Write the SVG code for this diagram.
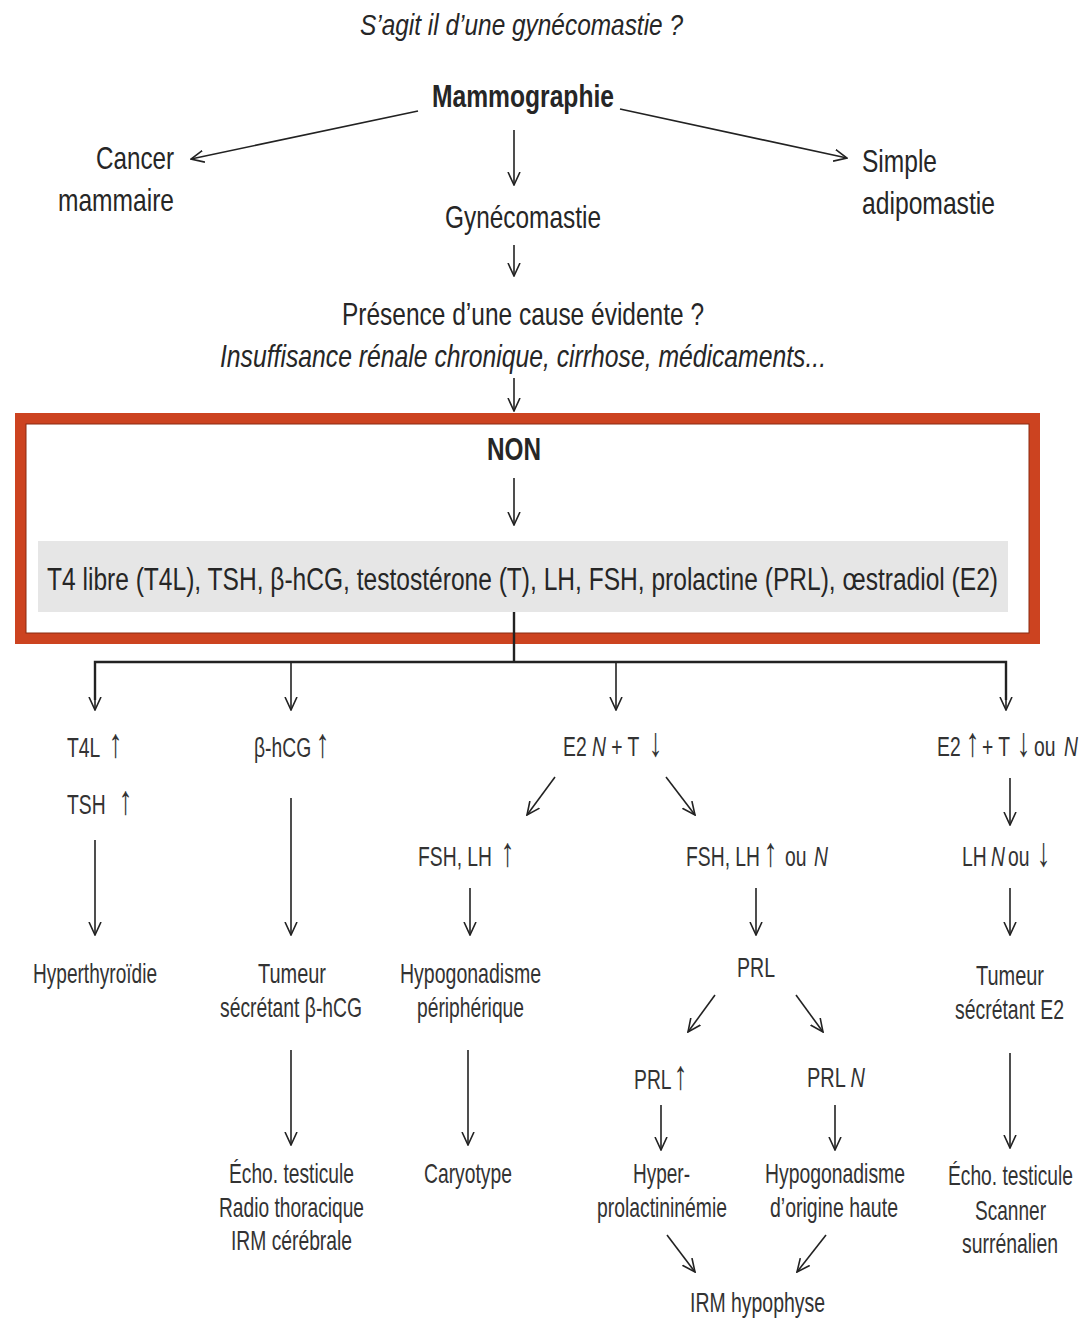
<svg xmlns="http://www.w3.org/2000/svg" width="1089" height="1319" viewBox="0 0 1089 1319">
<style>
text{font-family:"Liberation Sans",Arial,sans-serif;fill:#262626}
.t{font-size:32px}
.s{font-size:28px;fill:#333}
.b{font-weight:bold}
.i{font-style:italic}
.m{text-anchor:middle}
.e{text-anchor:end}
.ar{font-size:41px}
.c{fill:none;stroke:#222;stroke-width:1.6}
.h{fill:none;stroke:#222;stroke-width:2.4}
</style>
<defs>
<marker id="ah" viewBox="0 0 14 14" refX="13" refY="7" markerWidth="14" markerHeight="14" orient="auto" markerUnits="userSpaceOnUse">
<path d="M0,1 L13,7 L0,13" fill="none" stroke="#222" stroke-width="1.6"/>
</marker>
</defs>
<rect width="1089" height="1319" fill="#fff"/>
<g id="frame">
<rect x="20.5" y="418.5" width="1014" height="220" fill="none" stroke="#cc4320" stroke-width="11"/>
<rect x="26" y="424" width="1003" height="209" fill="none" stroke="#8a2a10" stroke-width="1"/>
<rect x="38" y="541" width="970" height="71" fill="#e6e6e6"/>
</g>
<g id="connectors">
<line class="c" x1="418" y1="111" x2="191" y2="159" marker-end="url(#ah)"/>
<line class="c" x1="620" y1="109" x2="847" y2="158" marker-end="url(#ah)"/>
<line class="c" x1="514" y1="130" x2="514" y2="185" marker-end="url(#ah)"/>
<line class="c" x1="514" y1="245" x2="514" y2="276" marker-end="url(#ah)"/>
<line class="c" x1="514" y1="378" x2="514" y2="411" marker-end="url(#ah)"/>
<line class="c" x1="514" y1="478" x2="514" y2="525" marker-end="url(#ah)"/>
<line class="h" x1="514" y1="612" x2="514" y2="662"/>
<polyline class="h" points="95,700 95,662 1006,662 1006,700"/>
<line class="c" x1="95" y1="662" x2="95" y2="710" marker-end="url(#ah)"/>
<line class="c" x1="291" y1="662" x2="291" y2="710" marker-end="url(#ah)"/>
<line class="c" x1="616" y1="662" x2="616" y2="710" marker-end="url(#ah)"/>
<line class="c" x1="1006" y1="662" x2="1006" y2="710" marker-end="url(#ah)"/>
<line class="c" x1="95" y1="840" x2="95" y2="935" marker-end="url(#ah)"/>
<line class="c" x1="291" y1="798" x2="291" y2="935" marker-end="url(#ah)"/>
<line class="c" x1="555" y1="777" x2="527" y2="815" marker-end="url(#ah)"/>
<line class="c" x1="666" y1="777" x2="695" y2="815" marker-end="url(#ah)"/>
<line class="c" x1="470" y1="888" x2="470" y2="935" marker-end="url(#ah)"/>
<line class="c" x1="756" y1="888" x2="756" y2="935" marker-end="url(#ah)"/>
<line class="c" x1="1010" y1="778" x2="1010" y2="825" marker-end="url(#ah)"/>
<line class="c" x1="1010" y1="888" x2="1010" y2="935" marker-end="url(#ah)"/>
<line class="c" x1="291" y1="1050" x2="291" y2="1145" marker-end="url(#ah)"/>
<line class="c" x1="468" y1="1050" x2="468" y2="1145" marker-end="url(#ah)"/>
<line class="c" x1="1010" y1="1053" x2="1010" y2="1148" marker-end="url(#ah)"/>
<line class="c" x1="715" y1="995" x2="688" y2="1032" marker-end="url(#ah)"/>
<line class="c" x1="796" y1="995" x2="823" y2="1032" marker-end="url(#ah)"/>
<line class="c" x1="661" y1="1105" x2="661" y2="1150" marker-end="url(#ah)"/>
<line class="c" x1="835" y1="1105" x2="835" y2="1150" marker-end="url(#ah)"/>
<line class="c" x1="667" y1="1235" x2="695" y2="1272" marker-end="url(#ah)"/>
<line class="c" x1="826" y1="1235" x2="797" y2="1272" marker-end="url(#ah)"/>
</g>
<g id="title"><text class="i m" style="font-size:30px" x="521.5" y="35" textLength="323" lengthAdjust="spacingAndGlyphs">S’agit il d’une gynécomastie ?</text></g>
<g id="mammographie"><text class="t b m" x="523" y="107" textLength="182" lengthAdjust="spacingAndGlyphs">Mammographie</text></g>
<g id="cancer"><text class="t e" x="174" y="169" textLength="78" lengthAdjust="spacingAndGlyphs">Cancer</text><text class="t e" x="174" y="211" textLength="116" lengthAdjust="spacingAndGlyphs">mammaire</text></g>
<g id="simple"><text class="t" x="862" y="172" textLength="75" lengthAdjust="spacingAndGlyphs">Simple</text><text class="t" x="862" y="214" textLength="133" lengthAdjust="spacingAndGlyphs">adipomastie</text></g>
<g id="gyneco"><text class="t m" x="523" y="228" textLength="156" lengthAdjust="spacingAndGlyphs">Gynécomastie</text></g>
<g id="cause"><text class="t m" x="523" y="325" textLength="362" lengthAdjust="spacingAndGlyphs">Présence d’une cause évidente ?</text><text class="t i m" x="523" y="367" textLength="606" lengthAdjust="spacingAndGlyphs">Insuffisance rénale chronique, cirrhose, médicaments...</text></g>
<g id="non"><text class="t b m" x="514" y="460" textLength="54" lengthAdjust="spacingAndGlyphs">NON</text></g>
<g id="bilan"><text class="m" style="font-size:31px" x="522.5" y="590" textLength="951" lengthAdjust="spacingAndGlyphs">T4 libre (T4L), TSH, β-hCG, testostérone (T), LH, FSH, prolactine (PRL), œstradiol (E2)</text></g>
<g id="t4l">
<text class="s" transform="matrix(0.69,0,0,1,67,757)"><tspan x="0">T4L</tspan><tspan class="ar" x="60.1">↑</tspan></text>
<text class="s" transform="matrix(0.69,0,0,1,67,814)"><tspan x="0">TSH</tspan><tspan class="ar" x="74.6">↑</tspan></text>
</g>
<g id="bhcg"><text class="s" transform="matrix(0.69,0,0,1,254,757)"><tspan x="0">β-hCG</tspan><tspan class="ar" x="89.1">↑</tspan></text></g>
<g id="e2n"><text class="s" transform="matrix(0.69,0,0,1,563,756)"><tspan x="0">E2 </tspan><tspan class="i">N</tspan><tspan> + T</tspan><tspan class="ar" x="124">↓</tspan></text></g>
<g id="e2up"><text class="s" transform="matrix(0.69,0,0,1,937,756)"><tspan x="0">E2</tspan><tspan class="ar" x="41.3">↑</tspan><tspan x="65.2">+ T</tspan><tspan class="ar" x="115.2">↓</tspan><tspan x="140.6">ou</tspan><tspan class="i" x="184">N</tspan></text></g>
<g id="fshup"><text class="s" transform="matrix(0.69,0,0,1,418,866)"><tspan x="0">FSH, LH</tspan><tspan class="ar" x="119.5">↑</tspan></text></g>
<g id="fshn"><text class="s" transform="matrix(0.69,0,0,1,686,866)"><tspan x="0">FSH, LH</tspan><tspan class="ar" x="112.3">↑</tspan><tspan x="143.5">ou</tspan><tspan class="i" x="185.5">N</tspan></text></g>
<g id="lhn"><text class="s" transform="matrix(0.69,0,0,1,962,866)"><tspan x="0">LH</tspan><tspan class="i" x="42">N</tspan><tspan x="66.7">ou</tspan><tspan class="ar" x="108">↓</tspan></text></g>
<g id="hyperthyro"><text class="s m" x="95" y="983" textLength="124" lengthAdjust="spacingAndGlyphs">Hyperthyroïdie</text></g>
<g id="tumeurhcg"><text class="s m" x="292" y="983" textLength="68" lengthAdjust="spacingAndGlyphs">Tumeur</text><text class="s m" x="291" y="1017" textLength="142" lengthAdjust="spacingAndGlyphs">sécrétant β-hCG</text></g>
<g id="hypoperi"><text class="s m" x="470.5" y="983" textLength="141" lengthAdjust="spacingAndGlyphs">Hypogonadisme</text><text class="s m" x="470.5" y="1017" textLength="107" lengthAdjust="spacingAndGlyphs">périphérique</text></g>
<g id="prl"><text class="s m" x="756" y="977" textLength="38" lengthAdjust="spacingAndGlyphs">PRL</text></g>
<g id="tumeure2"><text class="s m" x="1010" y="985" textLength="68" lengthAdjust="spacingAndGlyphs">Tumeur</text><text class="s m" x="1009.5" y="1019" textLength="109" lengthAdjust="spacingAndGlyphs">sécrétant E2</text></g>
<g id="prlup"><text class="s" transform="matrix(0.69,0,0,1,634,1089)"><tspan x="0">PRL</tspan><tspan class="ar" x="57.2">↑</tspan></text></g>
<g id="prln"><text class="s" x="807" y="1087" textLength="58" lengthAdjust="spacingAndGlyphs">PRL <tspan class="i">N</tspan></text></g>
<g id="echo1"><text class="s m" x="291.5" y="1183" textLength="125" lengthAdjust="spacingAndGlyphs">Écho. testicule</text><text class="s m" x="291.5" y="1217" textLength="145" lengthAdjust="spacingAndGlyphs">Radio thoracique</text><text class="s m" x="291.5" y="1250" textLength="121" lengthAdjust="spacingAndGlyphs">IRM cérébrale</text></g>
<g id="caryotype"><text class="s m" x="468" y="1183" textLength="88" lengthAdjust="spacingAndGlyphs">Caryotype</text></g>
<g id="hyperprl"><text class="s m" x="661.5" y="1183" textLength="57" lengthAdjust="spacingAndGlyphs">Hyper-</text><text class="s m" x="662" y="1217" textLength="130" lengthAdjust="spacingAndGlyphs">prolactininémie</text></g>
<g id="hypohaute"><text class="s m" x="835" y="1183" textLength="140" lengthAdjust="spacingAndGlyphs">Hypogonadisme</text><text class="s m" x="834" y="1217" textLength="128" lengthAdjust="spacingAndGlyphs">d’origine haute</text></g>
<g id="echo2"><text class="s m" x="1010.5" y="1185" textLength="125" lengthAdjust="spacingAndGlyphs">Écho. testicule</text><text class="s m" x="1010.5" y="1220" textLength="71" lengthAdjust="spacingAndGlyphs">Scanner</text><text class="s m" x="1010" y="1253" textLength="96" lengthAdjust="spacingAndGlyphs">surrénalien</text></g>
<g id="irm"><text class="s m" x="757.5" y="1312" textLength="135" lengthAdjust="spacingAndGlyphs">IRM hypophyse</text></g>
</svg>
